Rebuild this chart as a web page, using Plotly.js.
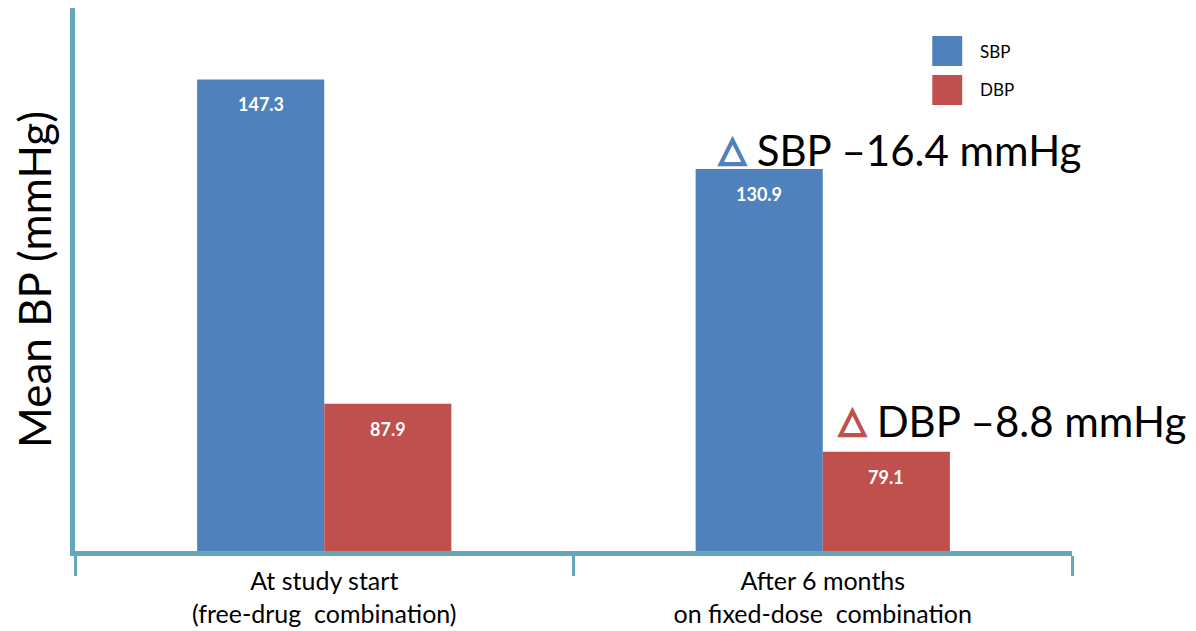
<!DOCTYPE html>
<html>
<head>
<meta charset="utf-8">
<script src="https://cdn.plot.ly/plotly-3.0.1.min.js"></script>
<style>
  html, body { margin: 0; padding: 0; background: #fff; }
  #chart { width: 1196px; height: 631px; }
</style>
</head>
<body>
<div id="chart"></div>
<script>
// Mean blood pressure before and after switching to a fixed-dose combination
const categories = ["At study start<br>(free-drug  combination)", "After 6 months<br>on fixed-dose  combination"];
const sbpValues = [147.3, 130.9];
const dbpValues = [87.9, 79.1];
const seriesNames = ["SBP", "DBP"];
const deltaLabels = ["SBP –16.4 mmHg", "DBP –8.8 mmHg"];

const BLUE = "#4F81BD";
const RED = "#C0504D";
const TEAL = "#64A7B8";
const FONT = "Lato, 'Open Sans', sans-serif";

const traces = [
  { type: "bar", name: seriesNames[0], x: categories, y: sbpValues,
    marker: { color: BLUE }, hoverinfo: "skip" },
  { type: "bar", name: seriesNames[1], x: categories, y: dbpValues,
    marker: { color: RED }, hoverinfo: "skip" }
];

const annotations = [];
// value labels just inside the top of each bar
const barHalf = 63.5;
[sbpValues, dbpValues].forEach((vals, s) => {
  vals.forEach((v, i) => {
    annotations.push({
      x: categories[i], y: v, xref: "x", yref: "y",
      xshift: s === 0 ? -barHalf : barHalf, yshift: -12,
      yanchor: "top", showarrow: false,
      text: "<b>" + v.toFixed(1) + "</b>",
      font: { family: FONT, size: 18, color: "#ffffff" }
    });
  });
});

// change callouts next to the follow-up bars
function deltaText(color, label) {
  return "<span style='fill:" + color + ";stroke:" + color +
    ";stroke-width:2.2px;font-family:DejaVu Sans;font-size:35px;baseline-shift:5px'>△</span> " + label;
}
annotations.push({
  x: 0.6436, y: 0.738, xref: "paper", yref: "paper",
  xanchor: "left", yanchor: "middle", showarrow: false,
  text: deltaText(BLUE, deltaLabels[0]),
  font: { family: FONT, size: 42, color: "#000" }
});
annotations.push({
  x: 0.764, y: 0.240, xref: "paper", yref: "paper",
  xanchor: "left", yanchor: "middle", showarrow: false,
  text: deltaText(RED, deltaLabels[1]),
  font: { family: FONT, size: 42, color: "#000" }
});

// legend entries
const legendColors = [BLUE, RED];
const shapes = [];
seriesNames.forEach((n, k) => {
  const top = 36 + k * 39;
  shapes.push({
    type: "rect", xref: "paper", yref: "paper",
    x0: (932 - 73) / 999, x1: (962 - 73) / 999,
    y0: (551 - top - 30) / 543, y1: (551 - top) / 543,
    fillcolor: legendColors[k], line: { width: 0 }
  });
  annotations.push({
    x: (978 - 73) / 999, y: (551 - top - 15) / 543, xref: "paper", yref: "paper",
    xanchor: "left", yanchor: "middle", showarrow: false,
    text: n, font: { family: FONT, size: 17, color: "#000" }
  });
});

const layout = {
  width: 1196, height: 631,
  margin: { l: 75, r: 124, t: 8, b: 80 },
  paper_bgcolor: "#fff", plot_bgcolor: "#fff",
  barmode: "group", bargap: 0.49, bargroupgap: 0,
  showlegend: false,
  xaxis: {
    type: "category", tickson: "boundaries",
    ticks: "outside", ticklen: 20, tickwidth: 3, tickcolor: TEAL,
    showline: true, linecolor: TEAL, linewidth: 5,
    showgrid: false, zeroline: false,
    ticklabelstandoff: 4,
    tickfont: { family: FONT, size: 25, color: "#000" }
  },
  yaxis: {
    range: [60.9, 160.4],
    showticklabels: false, ticks: "", showgrid: false, zeroline: false,
    showline: true, linecolor: TEAL, linewidth: 5,
    title: { text: "Mean BP (mmHg)", font: { family: FONT, size: 44, color: "#000" }, standoff: 6 }
  },
  annotations: annotations,
  shapes: shapes,
  font: { family: FONT }
};

Plotly.newPlot("chart", traces, layout, { displayModeBar: false, staticPlot: true });
</script>
</body>
</html>
